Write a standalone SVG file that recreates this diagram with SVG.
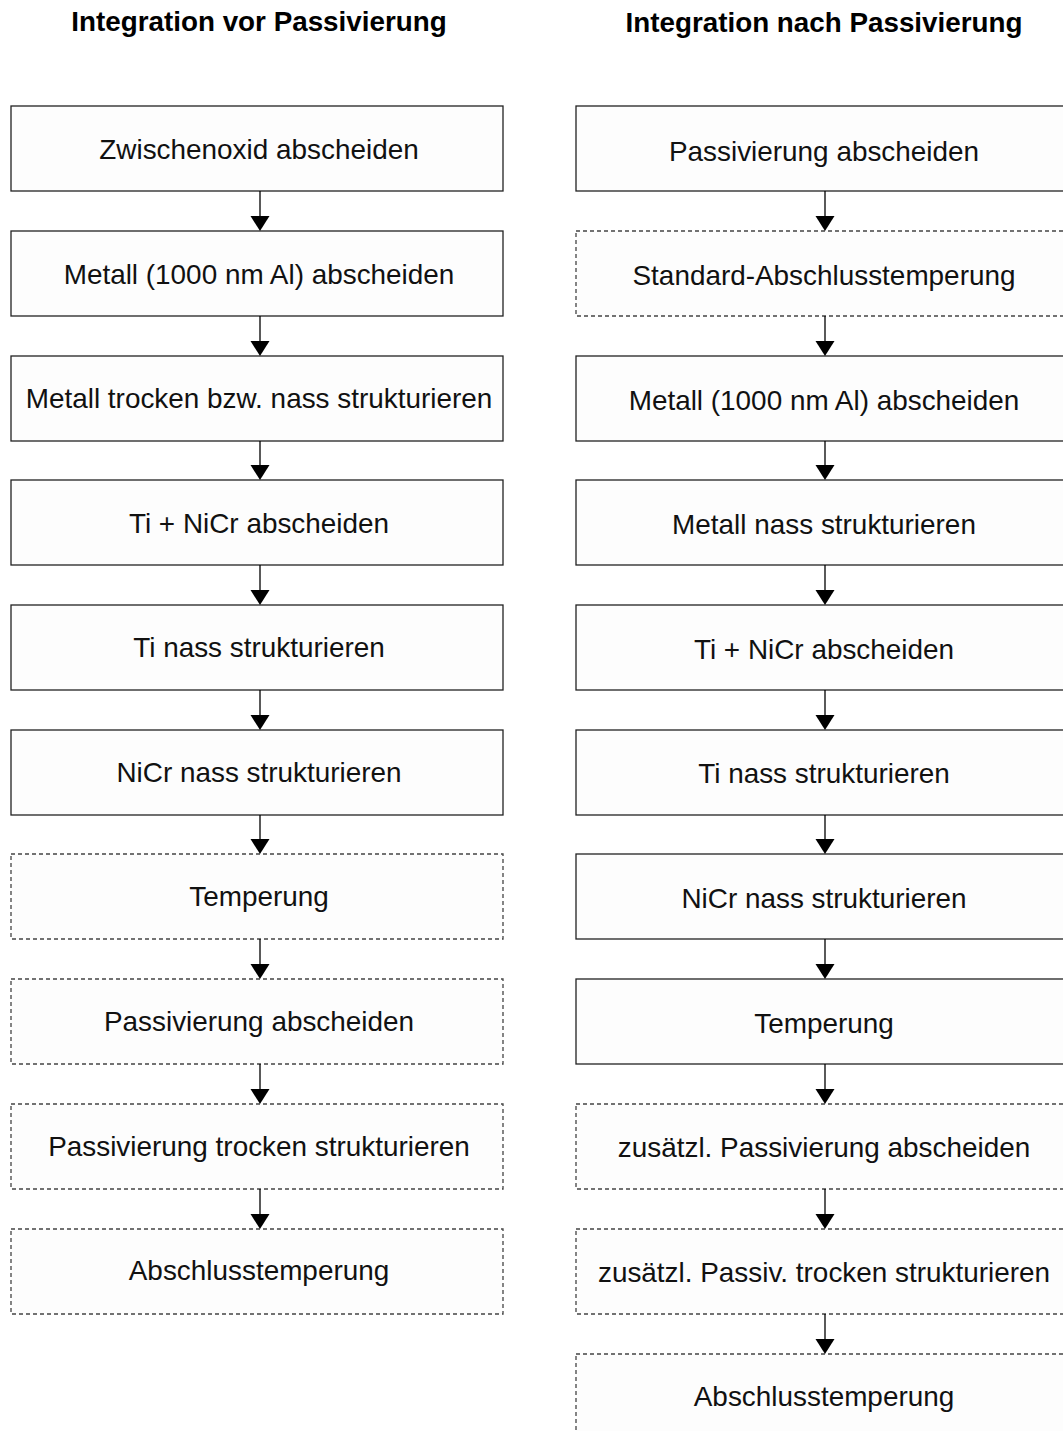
<svg xmlns="http://www.w3.org/2000/svg" width="1063" height="1431" viewBox="0 0 1063 1431">
  <style>
    .box { fill: #fdfdfd; stroke: #222; stroke-width: 1.3; }
    .dash { fill: #fdfdfd; stroke: #444; stroke-width: 1.3; stroke-dasharray: 4 3; }
    .lbl { font-family: "Liberation Sans", Arial, sans-serif; font-size: 27.9px; fill: #111; text-anchor: middle; }
    .title { font-family: "Liberation Sans", Arial, sans-serif; font-size: 27.8px; font-weight: bold; fill: #000; text-anchor: middle; }
    .conn line { stroke: #000; stroke-width: 1.3; }
    .conn path { fill: #000; }
  </style>
  <rect width="1063" height="1431" fill="#fff"/>

  <text class="title" x="259" y="31">Integration vor Passivierung</text>
  <text class="title" x="824" y="32">Integration nach Passivierung</text>

  <!-- left column: integration before passivation -->
  <g id="l1"><rect class="box" x="11" y="106" width="492" height="85"/><text class="lbl" x="259" y="158.5">Zwischenoxid abscheiden</text></g>
  <g id="l2"><rect class="box" x="11" y="231" width="492" height="85"/><text class="lbl" x="259" y="283.5">Metall (1000 nm Al) abscheiden</text></g>
  <g id="l3"><rect class="box" x="11" y="356" width="492" height="85"/><text class="lbl" x="259" y="407.5">Metall trocken bzw. nass strukturieren</text></g>
  <g id="l4"><rect class="box" x="11" y="480" width="492" height="85"/><text class="lbl" x="259" y="532.5">Ti + NiCr abscheiden</text></g>
  <g id="l5"><rect class="box" x="11" y="605" width="492" height="85"/><text class="lbl" x="259" y="656.5">Ti nass strukturieren</text></g>
  <g id="l6"><rect class="box" x="11" y="730" width="492" height="85"/><text class="lbl" x="259" y="781.5">NiCr nass strukturieren</text></g>
  <g id="l7"><rect class="dash" x="11" y="854" width="492" height="85"/><text class="lbl" x="259" y="905.5">Temperung</text></g>
  <g id="l8"><rect class="dash" x="11" y="979" width="492" height="85"/><text class="lbl" x="259" y="1030.5">Passivierung abscheiden</text></g>
  <g id="l9"><rect class="dash" x="11" y="1104" width="492" height="85"/><text class="lbl" x="259" y="1155.5">Passivierung trocken strukturieren</text></g>
  <g id="l10"><rect class="dash" x="11" y="1229" width="492" height="85"/><text class="lbl" x="259" y="1279.5">Abschlusstemperung</text></g>

  <!-- right column: integration after passivation -->
  <g id="r1"><rect class="box" x="576" y="106" width="492" height="85"/><text class="lbl" x="824" y="160.5">Passivierung abscheiden</text></g>
  <g id="r2"><rect class="dash" x="576" y="231" width="492" height="85"/><text class="lbl" x="824" y="284.5">Standard-Abschlusstemperung</text></g>
  <g id="r3"><rect class="box" x="576" y="356" width="492" height="85"/><text class="lbl" x="824" y="409.5">Metall (1000 nm Al) abscheiden</text></g>
  <g id="r4"><rect class="box" x="576" y="480" width="492" height="85"/><text class="lbl" x="824" y="533.5">Metall nass strukturieren</text></g>
  <g id="r5"><rect class="box" x="576" y="605" width="492" height="85"/><text class="lbl" x="824" y="658.5">Ti + NiCr abscheiden</text></g>
  <g id="r6"><rect class="box" x="576" y="730" width="492" height="85"/><text class="lbl" x="824" y="782.5">Ti nass strukturieren</text></g>
  <g id="r7"><rect class="box" x="576" y="854" width="492" height="85"/><text class="lbl" x="824" y="907.5">NiCr nass strukturieren</text></g>
  <g id="r8"><rect class="box" x="576" y="979" width="492" height="85"/><text class="lbl" x="824" y="1032.5">Temperung</text></g>
  <g id="r9"><rect class="dash" x="576" y="1104" width="492" height="85"/><text class="lbl" x="824" y="1156.5">zusätzl. Passivierung abscheiden</text></g>
  <g id="r10"><rect class="dash" x="576" y="1229" width="492" height="85"/><text class="lbl" x="824" y="1281.5">zusätzl. Passiv. trocken strukturieren</text></g>
  <g id="r11"><rect class="dash" x="576" y="1354" width="492" height="85"/><text class="lbl" x="824" y="1405.5">Abschlusstemperung</text></g>

  <!-- connectors -->
  <defs>
    <path id="ah" d="M-9.5,-15 L9.5,-15 L0,0 Z"/>
  </defs>
  <g id="connectors" class="conn">
    <line x1="260" y1="191" x2="260" y2="217"/><use href="#ah" x="260" y="231"/>
    <line x1="260" y1="316" x2="260" y2="342"/><use href="#ah" x="260" y="356"/>
    <line x1="260" y1="441" x2="260" y2="466"/><use href="#ah" x="260" y="480"/>
    <line x1="260" y1="565" x2="260" y2="591"/><use href="#ah" x="260" y="605"/>
    <line x1="260" y1="690" x2="260" y2="716"/><use href="#ah" x="260" y="730"/>
    <line x1="260" y1="815" x2="260" y2="840"/><use href="#ah" x="260" y="854"/>
    <line x1="260" y1="939" x2="260" y2="965"/><use href="#ah" x="260" y="979"/>
    <line x1="260" y1="1064" x2="260" y2="1090"/><use href="#ah" x="260" y="1104"/>
    <line x1="260" y1="1189" x2="260" y2="1215"/><use href="#ah" x="260" y="1229"/>

    <line x1="825" y1="191" x2="825" y2="217"/><use href="#ah" x="825" y="231"/>
    <line x1="825" y1="316" x2="825" y2="342"/><use href="#ah" x="825" y="356"/>
    <line x1="825" y1="441" x2="825" y2="466"/><use href="#ah" x="825" y="480"/>
    <line x1="825" y1="565" x2="825" y2="591"/><use href="#ah" x="825" y="605"/>
    <line x1="825" y1="690" x2="825" y2="716"/><use href="#ah" x="825" y="730"/>
    <line x1="825" y1="815" x2="825" y2="840"/><use href="#ah" x="825" y="854"/>
    <line x1="825" y1="939" x2="825" y2="965"/><use href="#ah" x="825" y="979"/>
    <line x1="825" y1="1064" x2="825" y2="1090"/><use href="#ah" x="825" y="1104"/>
    <line x1="825" y1="1189" x2="825" y2="1215"/><use href="#ah" x="825" y="1229"/>
    <line x1="825" y1="1314" x2="825" y2="1340"/><use href="#ah" x="825" y="1354"/>
  </g>
</svg>
